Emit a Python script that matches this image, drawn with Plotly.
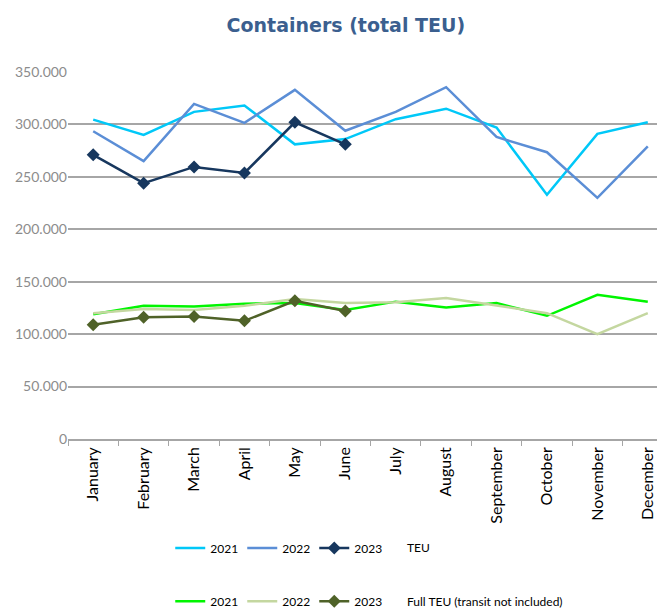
import plotly.graph_objects as go

months = ["January", "February", "March", "April", "May", "June", "July",
          "August", "September", "October", "November", "December"]

teu_2021 = [304600, 290000, 312000, 318000, 281000, 286000, 305000, 315000, 297000, 233000, 291000, 302000]
teu_2022 = [293500, 265000, 319600, 301500, 333000, 294000, 312000, 335500, 288000, 273500, 230000, 279000]
teu_2023 = [271000, 244000, 259500, 253700, 302000, 281000]

full_2021 = [119000, 127000, 126400, 129000, 129600, 123000, 131000, 125400, 129600, 117500, 137500, 131000]
full_2022 = [120000, 124000, 123000, 127000, 133400, 129600, 130500, 134400, 127300, 120000, 100000, 120000]
full_2023 = [109000, 116000, 116800, 112700, 131800, 122000]

y_ticks = [0, 50000, 100000, 150000, 200000, 250000, 300000, 350000]

fig = go.Figure()

def line(name, x, y, color, legend, marker=False):
    fig.add_trace(go.Scatter(
        x=x, y=y, name=name, legend=legend,
        mode="lines+markers" if marker else "lines",
        line=dict(color=color, width=2.5),
        marker=dict(symbol="diamond", size=10, color=color) if marker else None,
    ))

line("2021", months, teu_2021, "#00C8F8", "legend")
line("2022", months, teu_2022, "#5B8ED6", "legend")
line("2023", months[:6], teu_2023, "#17375E", "legend", marker=True)
line("2021", months, full_2021, "#00F500", "legend2")
line("2022", months, full_2022, "#C4D7A0", "legend2")
line("2023", months[:6], full_2023, "#4F6228", "legend2", marker=True)

legend_common = dict(
    orientation="h", xanchor="left", yanchor="middle",
    font=dict(family="Lato", size=12, color="#000000"),
    entrywidth=27, entrywidthmode="pixels", itemwidth=30,
    bgcolor="rgba(0,0,0,0)", tracegroupgap=0,
)

row1_y = -0.297
row2_y = -0.442

fig.update_layout(
    width=665, height=610,
    paper_bgcolor="white", plot_bgcolor="white",
    margin=dict(l=60, r=0, t=64, b=179),
    separators=",.",
    title=dict(text="<b>Containers (total TEU)</b>", x=0.508, xanchor="center",
               y=0.972, yanchor="middle",
               font=dict(family="DejaVu Sans", size=19, color="#3B5F8F")),
    showlegend=True,
    legend=dict(x=0.169, y=row1_y, **legend_common),
    legend2=dict(x=0.169, y=row2_y, **legend_common),
    xaxis=dict(
        type="category", categoryorder="array", categoryarray=months,
        range=[-0.5, 11.5],
        tickangle=-90, tickson="boundaries", ticks="outside", ticklen=5,
        tickcolor="#A6A6A6", showline=True, linecolor="#A6A6A6", linewidth=1.5,
        showgrid=False, automargin=False,
        tickfont=dict(family="Lato", size=16, color="#000000"),
    ),
    yaxis=dict(
        range=[0, 350000], tickvals=y_ticks, tickformat=",d",
        showgrid=True, gridcolor="#A6A6A6", gridwidth=1.5,
        zeroline=False, showline=False, ticks="", automargin=False,
        tickfont=dict(family="Lato", size=14, color="#8C8C8C"),
    ),
    annotations=[
        dict(text="TEU", xref="paper", yref="paper", x=0.557, y=row1_y,
             xanchor="left", yanchor="middle", showarrow=False,
             font=dict(family="Lato", size=12, color="#000000")),
        dict(text="Full TEU (transit not included)", xref="paper", yref="paper",
             x=0.557, y=row2_y, xanchor="left", yanchor="middle", showarrow=False,
             font=dict(family="Lato", size=12, color="#000000")),
    ],
)

fig.write_html("out.html")
